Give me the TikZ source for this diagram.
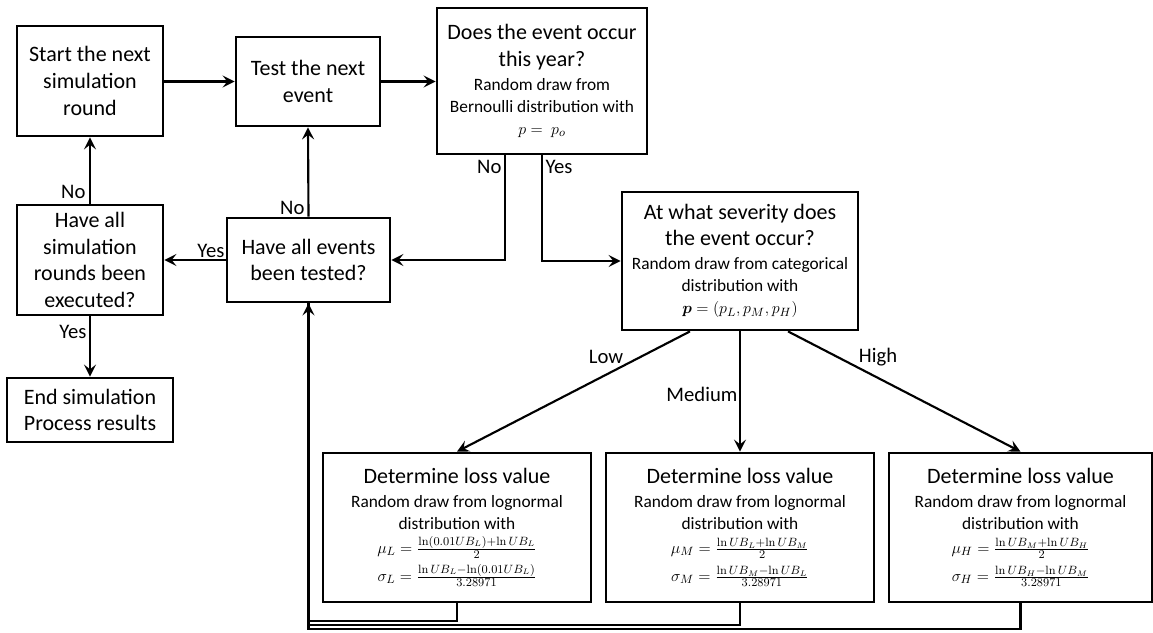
\documentclass[tikz,border=0pt]{standalone}
\usepackage{amsmath,bm}
\usepackage[no-math]{fontspec}
\setmainfont{Carlito}
\usetikzlibrary{arrows.meta,calc}
\newcommand{\bigf}{\fontsize{16.5}{20}\selectfont}
\newcommand{\lblf}{\fontsize{15.5}{19}\selectfont}
\newcommand{\smf}{\fontsize{13}{16}\selectfont}
\begin{document}
\begin{tikzpicture}[x=0.75pt,y=-0.75pt,
  box/.style={draw,line width=2.1pt,align=center,inner sep=2pt,font=\bigf},
  conn/.style={line width=1.6pt},
  arr/.style={conn,-{Stealth[length=9pt,width=9pt,inset=3.5pt]}},
  lbl/.style={font=\lblf,inner sep=1pt}]
\useasboundingbox (0,0) rectangle (1153,632);
% nodes
\node[box,minimum width=109.5pt,minimum height=82.5pt] (start) at (90,81) {Start the next\\simulation\\round};
\node[box,minimum width=108pt,minimum height=66.75pt] (test) at (308,81.5) {Test the next\\event};
\node[box,minimum width=157.5pt,minimum height=109.5pt] (occur) at (542,81) {Does the event occur\\this year?\\[-2pt]\smf Random draw from\\[-3.5pt]\smf Bernoulli distribution with\\[-3.5pt]\smf $p =\ p_o$};
\node[box,minimum width=109.5pt,minimum height=82.5pt] (rounds) at (90,260) {Have all\\simulation\\rounds been\\executed?};
\node[box,minimum width=122.25pt,minimum height=63pt] (events) at (308.5,260) {Have all events\\been tested?};
\node[box,minimum width=124.5pt,minimum height=48pt] (endb) at (90,410) {End simulation\\Process results};
\node[box,minimum width=177pt,minimum height=103.5pt] (sev) at (740,261) {At what severity does\\the event occur?\\[-2pt]\smf Random draw from categorical\\[-3.5pt]\smf distribution with\\[-3.5pt]\smf $\bm{p} = (p_L, p_M, p_H)$};
\node[box,minimum width=201pt,minimum height=111.75pt] (L) at (457,527.5) {Determine loss value\\[-2pt]\smf Random draw from lognormal\\[-3.5pt]\smf distribution with\\[-2.5pt]\smf $\mu_L = \frac{\ln(0.01UB_L)+\ln UB_L}{2}$\\[1pt]\smf $\sigma_L = \frac{\ln UB_L-\ln(0.01UB_L)}{3.28971}$};
\node[box,minimum width=201pt,minimum height=111.75pt] (M) at (740,527.5) {Determine loss value\\[-2pt]\smf Random draw from lognormal\\[-3.5pt]\smf distribution with\\[-2.5pt]\smf $\mu_M = \frac{\ln UB_L+\ln UB_M}{2}$\\[1pt]\smf $\sigma_M = \frac{\ln UB_M-\ln UB_L}{3.28971}$};
\node[box,minimum width=197.25pt,minimum height=111.75pt] (H) at (1020.5,527.5) {Determine loss value\\[-2pt]\smf Random draw from lognormal\\[-3.5pt]\smf distribution with\\[-2.5pt]\smf $\mu_H = \frac{\ln UB_M+\ln UB_H}{2}$\\[1pt]\smf $\sigma_H = \frac{\ln UB_H-\ln UB_M}{3.28971}$};
% coordinates
\coordinate (r1) at (0,621);
\coordinate (r2) at (0,625);
\coordinate (r3) at (0,629);
% connectors
\draw[arr] (start.east |- test.west) -- (test.west);
\draw[arr] (test.east) -- (test.east -| occur.west);
\draw[arr] (events.north) -- (test.south);
\draw[arr] (rounds.north) -- (start.south);
\draw[arr] (events.west) -- (rounds.east |- events.west);
\draw[arr] (rounds.south) -- (endb.north);
\draw[arr] ($(occur.south)+(-37,0)$) |- (events.east);
\draw[arr] (occur.south) |- (sev.west);
\draw[arr] ($(sev.south)+(-50,0)$) -- (L.north);
\draw[arr] (sev.south) -- (M.north);
\draw[arr] ($(sev.south)+(48,0)$) -- (H.north);
\draw[conn] (L.south) -- (L.south |- r1) -| (events.south);
\draw[conn] (M.south) -- (M.south |- r2) -| (events.south);
\draw[arr] (H.south) -- (H.south |- r3) -| (events.south);
% labels
\node[lbl,anchor=east] (lno1) at (87,192) {No};
\node[lbl,anchor=east] (lno2) at (306,208) {No};
\node[lbl,anchor=south east] (lyes1) at (226,259) {Yes};
\node[lbl,anchor=east] (lyes2) at (88,332) {Yes};
\node[lbl,anchor=east] (lno3) at (503,167) {No};
\node[lbl,anchor=west] (lyes3) at (544,167) {Yes};
\node[lbl] (llow) at (606,357) {Low};
\node[lbl] (lhigh) at (878,357) {High};
\node[lbl,anchor=east] (lmed) at (739,394) {Medium};
\end{tikzpicture}
\end{document}
